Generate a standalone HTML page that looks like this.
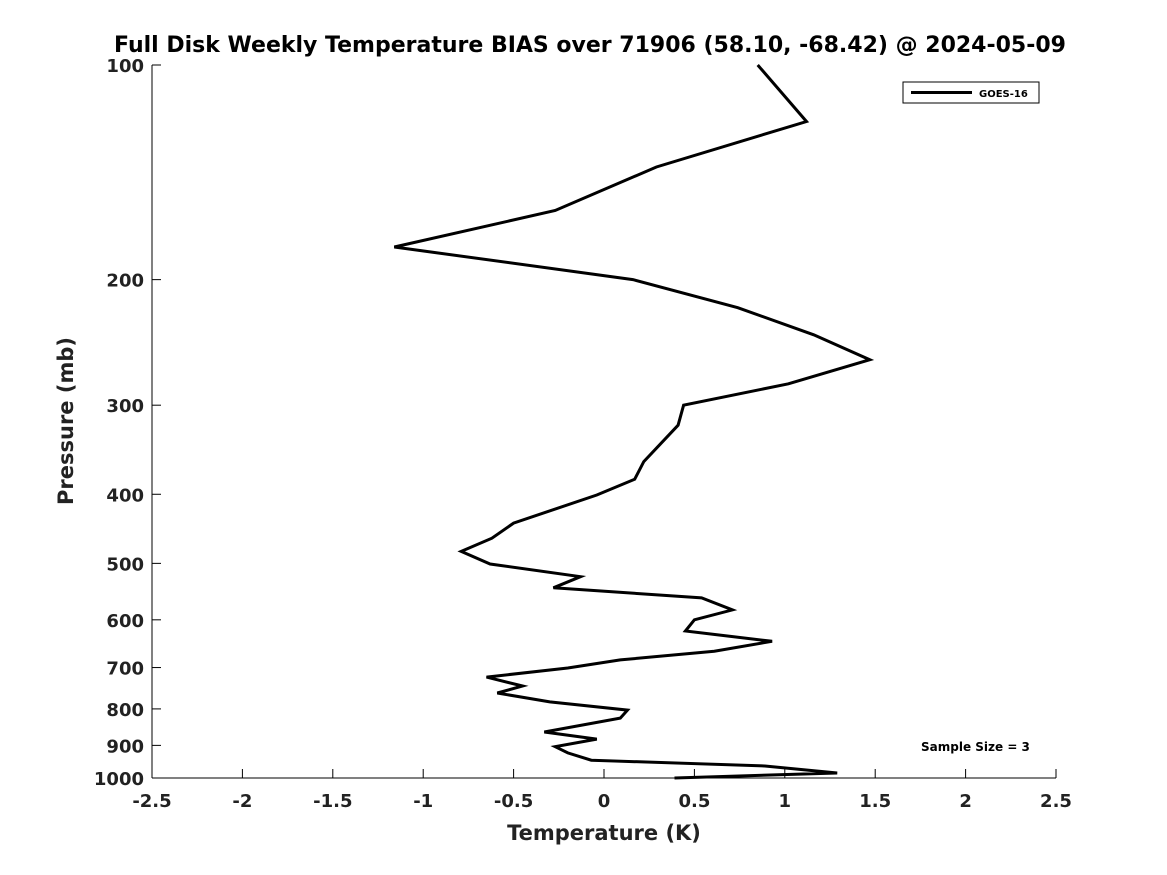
<!DOCTYPE html>
<html><head><meta charset="utf-8"><style>
html,body{margin:0;padding:0;background:#fff;}
svg{display:block;font-family:"DejaVu Sans","Liberation Sans",sans-serif;font-weight:bold;}
</style></head><body>
<svg id="chart" width="1167" height="875" viewBox="0 0 1167 875" xmlns="http://www.w3.org/2000/svg">
<rect width="1167" height="875" fill="#fff"/>
<text x="590" y="52" text-anchor="middle" font-size="22" fill="#000">Full Disk Weekly Temperature BIAS over 71906 (58.10, -68.42) @ 2024-05-09</text>
<g id="axes"></g>
<polyline id="series" fill="none" stroke="#000" stroke-width="3" stroke-linejoin="miter"/>
<g>
<rect x="903" y="82" width="136" height="21" fill="#fff" stroke="#000" stroke-width="1"/>
<line x1="911" y1="92.5" x2="972" y2="92.5" stroke="#000" stroke-width="3"/>
<text x="979" y="97" font-size="10" fill="#000">GOES-16</text>
</g>
<text x="921" y="751" font-size="12" fill="#000">Sample Size = 3</text>
<text x="604" y="840" text-anchor="middle" font-size="21" fill="#222">Temperature (K)</text>
<text transform="translate(73,421) rotate(-90)" text-anchor="middle" font-size="21" fill="#222">Pressure (mb)</text>
</svg>
<script>
const temps=[0.85,1.12,0.29,-0.27,-1.16,0.16,0.74,1.16,1.47,1.02,0.44,0.41,0.22,0.17,-0.04,-0.50,-0.62,-0.79,-0.63,-0.13,-0.28,0.54,0.71,0.50,0.45,0.93,0.61,0.09,-0.20,-0.65,-0.45,-0.59,-0.30,0.13,0.09,-0.33,-0.04,-0.27,-0.20,-0.07,0.89,1.29,0.39];
const pressures=[100,120,139,160,180,200,219,239,259,280,300,320,360,381,401,439,461,481,501,522,541,559,581,600,622,643,664,683,701,722,743,760,782,803,824,862,882,904,922,944,962,984,1000];
const xTicks=[-2.5,-2,-1.5,-1,-0.5,0,0.5,1,1.5,2,2.5];
const xTickLabels=["-2.5","-2","-1.5","-1","-0.5","0","0.5","1","1.5","2","2.5"];
const yTicks=[100,200,300,400,500,600,700,800,900,1000];
const yTickLabels=["100","200","300","400","500","600","700","800","900","1000"];
const L=152,R=1056,T=65,B=778;
function xs(v){return L+(v+2.5)/5*(R-L);}
function ys(p){return T+Math.log10(p/100)*(B-T);}
const NS="http://www.w3.org/2000/svg";
const ax=document.getElementById('axes');
function mk(tag,attrs){const e=document.createElementNS(NS,tag);for(const k in attrs)e.setAttribute(k,attrs[k]);return e;}
const xl=mk('line',{x1:L,y1:B,x2:R,y2:B,stroke:'#000','stroke-width':1});


ax.appendChild(xl);
const yl=mk('line',{x1:L,y1:T,x2:L,y2:B,stroke:'#000','stroke-width':1});


ax.appendChild(yl);
xTicks.forEach((v,i)=>{
 const x=xs(v);
 const t=mk('line',{x1:x,y1:B,x2:x,y2:B-9,stroke:'#000','stroke-width':1});
 
 
 ax.appendChild(t);
 const tx=mk('text',{x:x,y:B+29,'text-anchor':'middle','font-size':18,fill:'#222'});
 tx.textContent=xTickLabels[i];
 
 
 ax.appendChild(tx);
});
yTicks.forEach((v,i)=>{
 const y=ys(v);
 const t=mk('line',{x1:L,y1:y,x2:L+9,y2:y,stroke:'#000','stroke-width':1});
 
 
 ax.appendChild(t);
 const tx=mk('text',{x:L-8,y:y+7,'text-anchor':'end','font-size':18,fill:'#222'});
 tx.textContent=yTickLabels[i];
 
 
 ax.appendChild(tx);
});
document.getElementById('series').setAttribute('points',temps.map((t,i)=>xs(t).toFixed(1)+','+ys(pressures[i]).toFixed(1)).join(' '));
</script>
</body></html>
